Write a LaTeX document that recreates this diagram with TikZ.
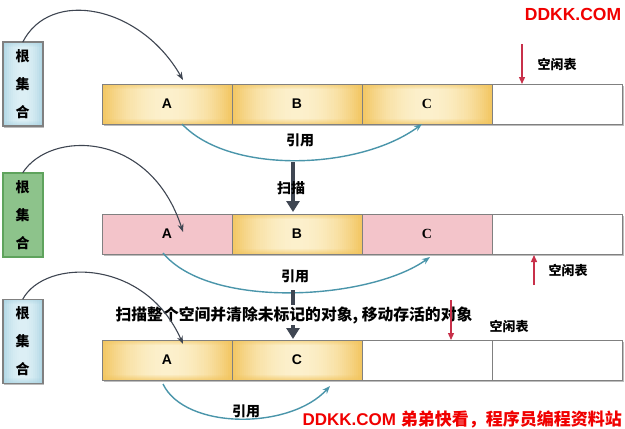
\documentclass[tikz,border=0pt]{standalone}
\usepackage{fontspec}
\setmainfont{Liberation Sans}
\newfontfamily\cjk{Noto Sans CJK SC}
\newfontfamily\serifc{Liberation Serif}
\usetikzlibrary{arrows.meta,calc,backgrounds}
\definecolor{goldD}{HTML}{F2C45C}
\definecolor{goldL}{HTML}{FCF0CC}
\definecolor{pinkF}{HTML}{F3C4CA}
\definecolor{blueD}{HTML}{A9D3E2}
\definecolor{blueL}{HTML}{DCEFF5}
\definecolor{greenF}{HTML}{8DC38B}
\definecolor{greenB}{HTML}{5FA35D}
\definecolor{cellgray}{HTML}{808080}
\definecolor{shadowC}{HTML}{BDBDBD}
\definecolor{tealC}{HTML}{4A95AA}
\definecolor{darkC}{HTML}{3F4652}
\definecolor{redA}{HTML}{C8304A}
\definecolor{wmred}{HTML}{F00000}
% symmetric gradient strips behind a node:
% #1 node, #2 edge colour, #3 centre colour, #4 strips per half, #5 half width
\newcommand\gradstrips[5]{%
  \begin{scope}[on background layer]
    \foreach \k in {1,...,#4}{
      \edef\gmix{\the\numexpr 100-100*(\k-1)*(\k-1)/(#4*#4)\relax}
      \fill[#3!\gmix!#2] ($(#1.north)+({(\k-1)*#5/#4-0.05},0)$) rectangle ($(#1.south)+({\k*#5/#4},0)$);
      \fill[#3!\gmix!#2] ($(#1.north)+({-(\k-1)*#5/#4+0.05},0)$) rectangle ($(#1.south)+({-\k*#5/#4},0)$);
    }
    \foreach \j in {1,...,5}{
      \fill[#2, opacity={0.12*(6-\j)}] ($(#1.north west)+(0,\j-1)$) rectangle ($(#1.north east)+(0,\j)$);
      \fill[#2, opacity={0.12*(6-\j)}] ($(#1.south west)+(0,-\j+1)$) rectangle ($(#1.south east)+(0,-\j)$);
    }
  \end{scope}}
\newcommand\boxshadow[2]{%
  \begin{scope}[on background layer]
    \fill[shadowC] ($(#1.south west)+(1.5,1.5)$) rectangle ($(#2.north east)+(1.5,1.5)$);
  \end{scope}}
\tikzset{
  cell/.style={draw=cellgray, line width=0.9pt, minimum width=130pt, minimum height=40pt,
    inner sep=0pt, outer sep=0pt, font=\bfseries\fontsize{14}{16}\selectfont},
  goldcell/.style={cell},
  pinkcell/.style={cell, fill=pinkF},
  emptycell/.style={cell, fill=white},
  rootbox/.style={minimum width=40pt, minimum height=84pt, line width=1.6pt, inner sep=0pt, outer sep=0pt,
    align=center, font=\cjk\bfseries\fontsize{14}{28}\selectfont},
  bluebox/.style={rootbox, draw=cellgray},
  greenbox/.style={rootbox, draw=greenB, fill=greenF},
  rootarrow/.style={draw=darkC, line width=1.1pt, -{Stealth[length=8pt,width=6pt]}},
  refarrow/.style={draw=tealC, line width=1.4pt, -{Stealth[length=8pt,width=6pt]}},
  scanarrow/.style={draw=darkC, line width=4pt, -{Triangle[length=11pt,width=13pt]}},
  freearrow/.style={draw=redA, line width=1.3pt, -{Triangle[length=7pt,width=6pt]}},
  lbl/.style={font=\cjk\bfseries\fontsize{14}{16}\selectfont, inner sep=1pt},
  freelbl/.style={font=\cjk\bfseries\fontsize{13}{15}\selectfont, inner sep=1pt},
  wm/.style={font=\bfseries\fontsize{17.5}{20}\selectfont, text=wmred, inner sep=0pt}
}
\begin{document}
\begin{tikzpicture}[x=1pt,y=-1pt]
\useasboundingbox (0,0) rectangle (625,429);
% watermark top
\node[wm] (wm1) at (573,14) {DDKK.COM};

% ---------- row 1 ----------
\node[bluebox] (r1) at (22.7,84.2) {根\\集\\合};
\node[goldcell] (a1) at (167,104) {A};
\node[goldcell] (b1) at (297,104) {B};
\node[goldcell] (c1) at (427,104) {\serifc\bfseries C};
\node[emptycell] (e1) at (557,104) {};
\boxshadow{r1}{r1}
\boxshadow{a1}{e1}
\gradstrips{r1}{blueD}{blueL}{10}{20}
\gradstrips{a1}{goldD}{goldL}{32}{65}
\gradstrips{b1}{goldD}{goldL}{32}{65}
\gradstrips{c1}{goldD}{goldL}{32}{65}
\draw[rootarrow] (r1.north) .. controls (50,-12) and (140,5) .. ($(a1.north)+(16,-4)$);
\draw[refarrow] ($(a1.south)+(15,0)$) .. controls (230,175) and (360,170) .. ($(c1.south)+(-5,0)$);
\node[lbl] (l1) at (300,140) {引用};
\coordinate (f1s) at (522,44);
\draw[freearrow] (f1s) -- (e1.north -| f1s);
\node[freelbl] (fl1) at (557,64) {空闲表};

% scan arrow 1
\coordinate (s1a) at (293,162);
\coordinate (s1b) at (293,212);
\draw[scanarrow] (s1a) -- (s1b);
\node[lbl] (scan) at (291,188) {扫描};

% ---------- row 2 ----------
\node[greenbox] (r2) at (22.7,214.8) {根\\集\\合};
\node[pinkcell] (a2) at (167,234) {A};
\node[goldcell] (b2) at (297,234) {B};
\node[pinkcell] (c2) at (427,234) {\serifc\bfseries C};
\node[emptycell] (e2) at (557,234) {};
\boxshadow{a2}{e2}
\gradstrips{b2}{goldD}{goldL}{32}{65}
\draw[rootarrow] (r2.north) .. controls (50,130) and (150,130) .. ($(a2.center)+(16,-2)$);
\draw[refarrow] ($(a2.south)+(-4,-1)$) .. controls (210,310) and (370,300) .. ($(c2.south)+(3,3)$);
\node[lbl] (l2) at (295,276) {引用};
\coordinate (f2s) at (534,285);
\draw[freearrow] (f2s) -- ($(e2.south -| f2s)+(0,1)$);
\node[freelbl] (fl2) at (568,270) {空闲表};

% scan arrow 2
\coordinate (s2a) at (293,290);
\coordinate (s2b) at (293,339);
\draw[scanarrow] (s2a) -- (s2b);
\node[lbl, fill=white, font=\cjk\bfseries\fontsize{15.8}{18}\selectfont] (sweep) at (294,315) {扫描整个空间并清除未标记的对象, 移动存活的对象};

% ---------- row 3 ----------
\node[bluebox] (r3) at (22.7,341.3) {根\\集\\合};
\node[goldcell] (a3) at (167,360) {A};
\node[goldcell] (c3) at (297,360) {C};
\node[emptycell] (e3) at (427,360) {};
\node[emptycell] (g3) at (557,360) {};
\boxshadow{r3}{r3}
\boxshadow{a3}{g3}
\gradstrips{r3}{blueD}{blueL}{10}{20}
\gradstrips{a3}{goldD}{goldL}{32}{65}
\gradstrips{c3}{goldD}{goldL}{32}{65}
\draw[rootarrow] (r3.north) .. controls (45,258) and (145,258) .. ($(a3.center)+(16,-16)$);
\draw[refarrow] ($(a3.south)+(-4,4)$) .. controls (185,430) and (290,430) .. ($(c3.south)+(33,6)$);
\node[lbl] (l3) at (246,411) {引用};
\coordinate (f3s) at (451,300);
\draw[freearrow] (f3s) -- (e3.north -| f3s);
\node[freelbl] (fl3) at (509,326) {空闲表};

% watermark bottom
\node[wm, anchor=east, font=\bfseries\fontsize{17}{20}\selectfont] (wm2) at (622,419) {DDKK.COM {\cjk\bfseries 弟弟快看，程序员编程资料站}};
\end{tikzpicture}
\end{document}
